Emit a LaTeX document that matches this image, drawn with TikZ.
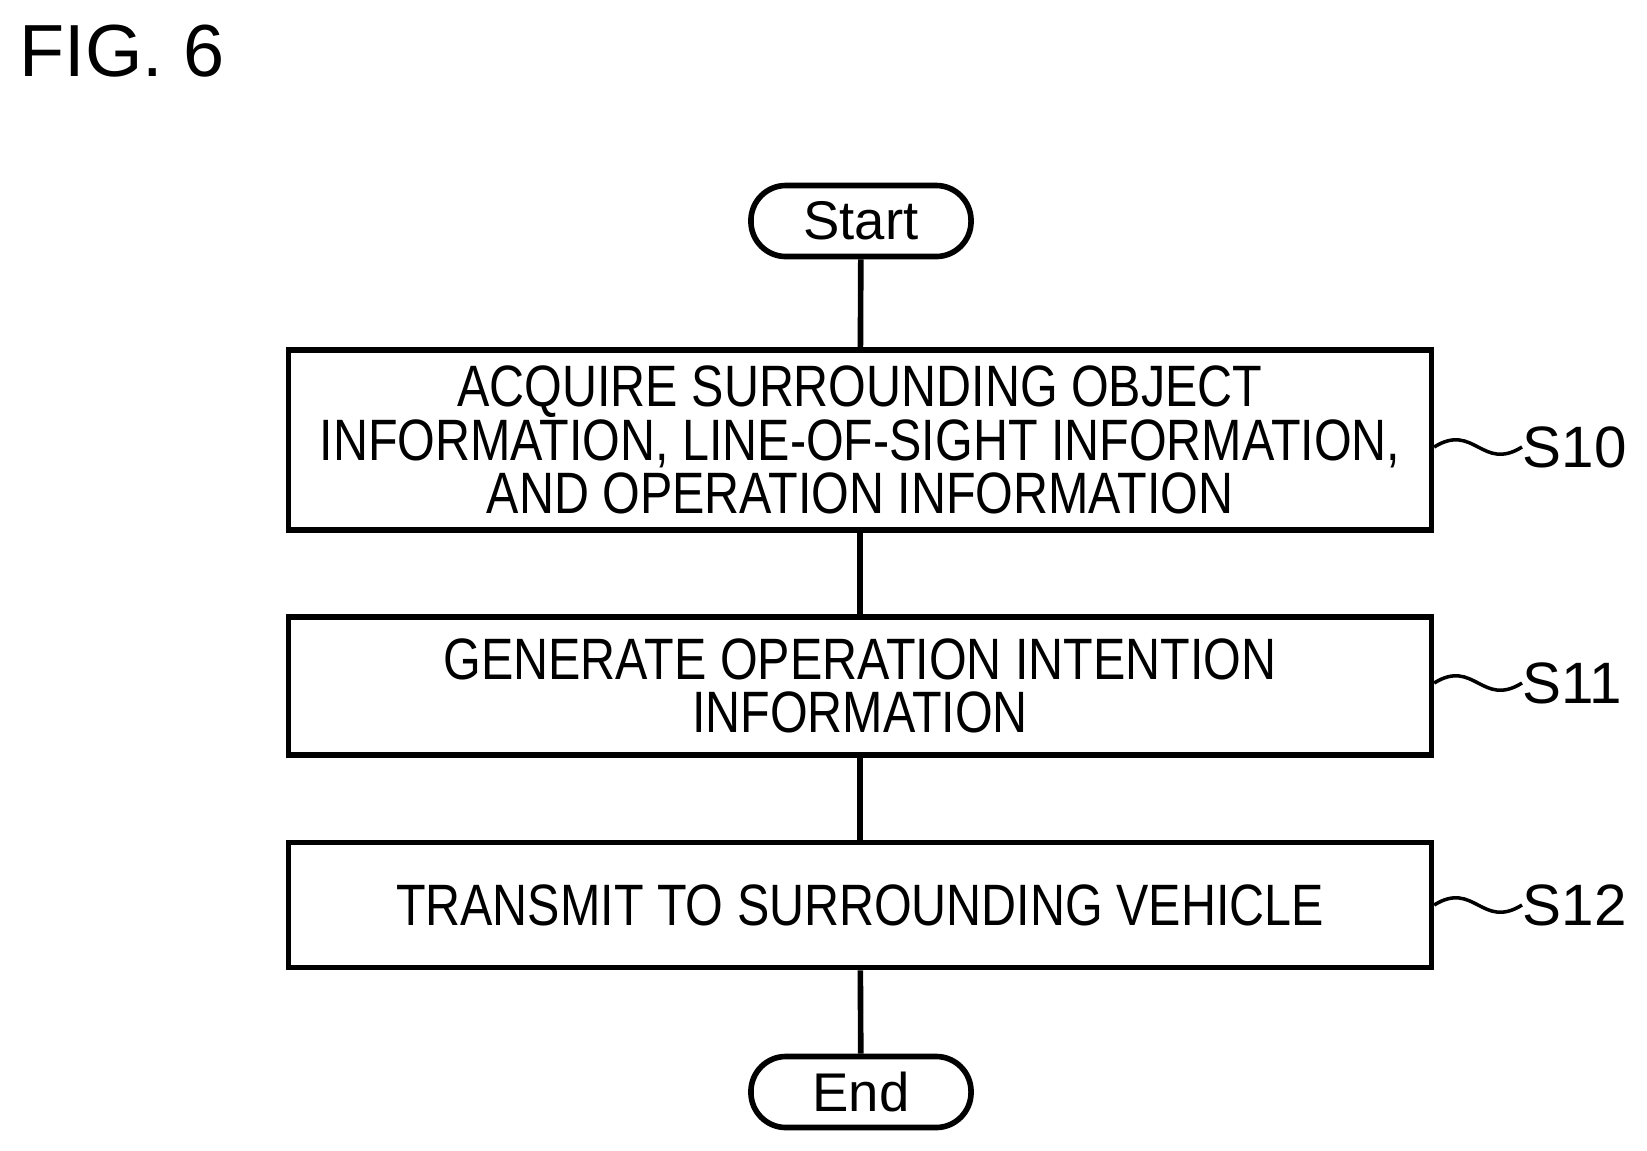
\documentclass[tikz,border=0pt]{standalone}
\usepackage{fontspec}
\setmainfont{Liberation Sans}
\newfontfamily\narrowsans[FakeStretch=0.83]{Liberation Sans}
\usetikzlibrary{positioning}
\tikzset{
  stepbox/.style={draw, line width=1.6pt, minimum width=11.42cm, align=center,
    font=\narrowsans\fontsize{16.6}{15.2}\selectfont, inner sep=0pt},
  term/.style={draw, line width=1.6pt, rounded corners=0.35cm, minimum width=2.2cm,
    minimum height=0.71cm, font=\fontsize{15.5}{16}\selectfont, inner sep=0pt},
  tag/.style={font=\fontsize{16.6}{18}\selectfont, anchor=west, inner sep=0pt},
  link/.style={line width=1.6pt}
}
\begin{document}
\begin{tikzpicture}[x=0.01cm, y=-0.01cm]
  \useasboundingbox (0,0) rectangle (1647,1150);

  % ---------- Title ----------
  \node[anchor=north west, inner sep=0pt, font=\fontsize{21}{24}\selectfont] (fig) at (19,24) {FIG. 6};

  % ---------- Flow ----------
  \node[term] (start) at (861,221) {Start};
  \node[stepbox, minimum height=1.8cm] (s10) at (860,440)
    {ACQUIRE SURROUNDING OBJECT\\INFORMATION, LINE-OF-SIGHT INFORMATION,\\AND OPERATION INFORMATION};
  \node[stepbox, minimum height=1.38cm] (s11) at (860,686)
    {GENERATE OPERATION INTENTION\\INFORMATION};
  \node[stepbox, minimum height=1.25cm] (s12) at (860,905)
    {TRANSMIT TO SURROUNDING VEHICLE};
  \node[term] (end) at (861,1092) {End};

  \draw[link] (start) -- (s10);
  \draw[link] (s10) -- (s11);
  \draw[link] (s11) -- (s12);
  \draw[link] (s12) -- (end);

  % ---------- Step labels ----------
  \node[tag] (t10) at (1522,447) {S10};
  \node[tag] (t11) at (1522,683) {S11};
  \node[tag] (t12) at (1522,905) {S12};

  \foreach \b/\t in {s10/t10, s11/t11, s12/t12}
    \draw[line width=1pt] (\b.east |- \t.west) .. controls +(40,-25) and +(-40,25) .. (\t.west);
\end{tikzpicture}
\end{document}
